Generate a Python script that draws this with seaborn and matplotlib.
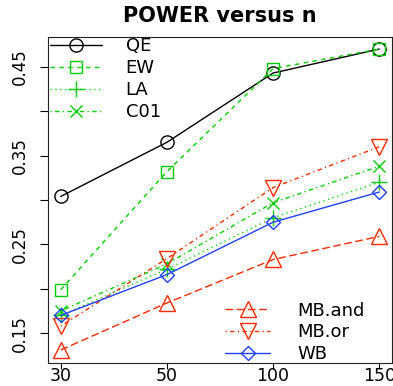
import numpy as np
import pandas as pd
import matplotlib
matplotlib.use("Agg")
import matplotlib.pyplot as plt
import seaborn as sns

# ---- data ----
n_labels = ["30", "50", "100", "150"]
QE = [0.304, 0.365, 0.443, 0.470]
EW = [0.199, 0.332, 0.448, 0.470]
LA = [0.170, 0.222, 0.280, 0.320]
C01 = [0.175, 0.228, 0.297, 0.338]
MB_and = [0.131, 0.184, 0.233, 0.259]
MB_or = [0.158, 0.234, 0.314, 0.360]
WB = [0.170, 0.216, 0.275, 0.309]
y_ticks = [0.15, 0.20, 0.25, 0.30, 0.35, 0.40, 0.45]
y_tick_labels = ["0.15", "", "0.25", "", "0.35", "", "0.45"]

sns.set_style("ticks")
plt.rcParams["font.family"] = ["DejaVu Sans"]
plt.rcParams["text.color"] = "black"
plt.rcParams["xtick.color"] = "black"
plt.rcParams["ytick.color"] = "black"
plt.rcParams["axes.labelcolor"] = "black"

GREEN = "#00CC00"
RED = "#FF2A00"
BLUE = "#2040FF"

series = [
    ("QE", QE, "black", "-", "o", 9.5),
    ("EW", EW, GREEN, (0, (3.2, 3.2)), "s", 8.0),
    ("LA", LA, GREEN, (0, (0.9, 2.6)), "+", 11.0),
    ("C01", C01, GREEN, (0, (0.9, 2.4, 3.2, 2.4)), "x", 8.5),
    ("MB.and", MB_and, RED, (0, (5.5, 2.6)), "^", 11.0),
    ("MB.or", MB_or, RED, (0, (0.9, 2.4, 3.2, 2.4)), "v", 11.0),
    ("WB", WB, BLUE, "-", "D", 7.5),
]

fig = plt.figure(figsize=(3.93, 3.86), dpi=100)
ax = fig.add_axes([48 / 393, 23 / 386, 344 / 393, 326 / 386])

handles = {}
for name, vals, col, ls, mk, ms in series:
    df = pd.DataFrame({"n": n_labels, "power": vals})
    sns.lineplot(data=df, x="n", y="power", ax=ax, color=col, linestyle=ls,
                 linewidth=1.0, marker=mk, markersize=ms, mfc="none",
                 markeredgecolor=col, markeredgewidth=1.0, sort=False,
                 legend=False)
    handles[name] = ax.lines[-1]

ax.set_xlim(-0.12, 3.12)
ax.set_ylim(0.1164, 0.4836)
ax.set_xticks(range(len(n_labels)), labels=n_labels)
ax.set_yticks(y_ticks, labels=y_tick_labels)
ax.set_xlabel("")
ax.set_ylabel("")
for lab in ax.get_yticklabels():
    lab.set_rotation(90)
    lab.set_va("center")
ax.tick_params(axis="x", labelsize=12.5, length=4.5, width=0.8, pad=-1.5,
               colors="black")
ax.tick_params(axis="y", labelsize=12, length=5.5, width=0.8, pad=8,
               colors="black")
for s in ax.spines.values():
    s.set_linewidth(0.8)
    s.set_color("#222222")

ax.set_title("POWER versus n", fontsize=15, fontweight="bold", pad=11,
             x=(220 - 48) / 344, color="black")

leg1 = ax.legend([handles[k] for k in ["QE", "EW", "LA", "C01"]],
                 ["QE", "EW", "LA", "C01"], loc="upper left",
                 bbox_to_anchor=(0.005, 1.0), frameon=False, fontsize=13,
                 numpoints=1, handlelength=2.9, handletextpad=1.3,
                 labelspacing=0.22, borderpad=0.0, borderaxespad=0.0)
ax.add_artist(leg1)
ax.legend([handles[k] for k in ["MB.and", "MB.or", "WB"]],
          ["MB.and", "MB.or", "WB"], loc="lower left",
          bbox_to_anchor=((225 - 48) / 344, 0.0), frameon=False, fontsize=13,
          numpoints=1, handlelength=2.5, handletextpad=1.5,
          labelspacing=0.2, borderpad=0.0, borderaxespad=0.0)

fig.savefig("out.png", dpi=100)
